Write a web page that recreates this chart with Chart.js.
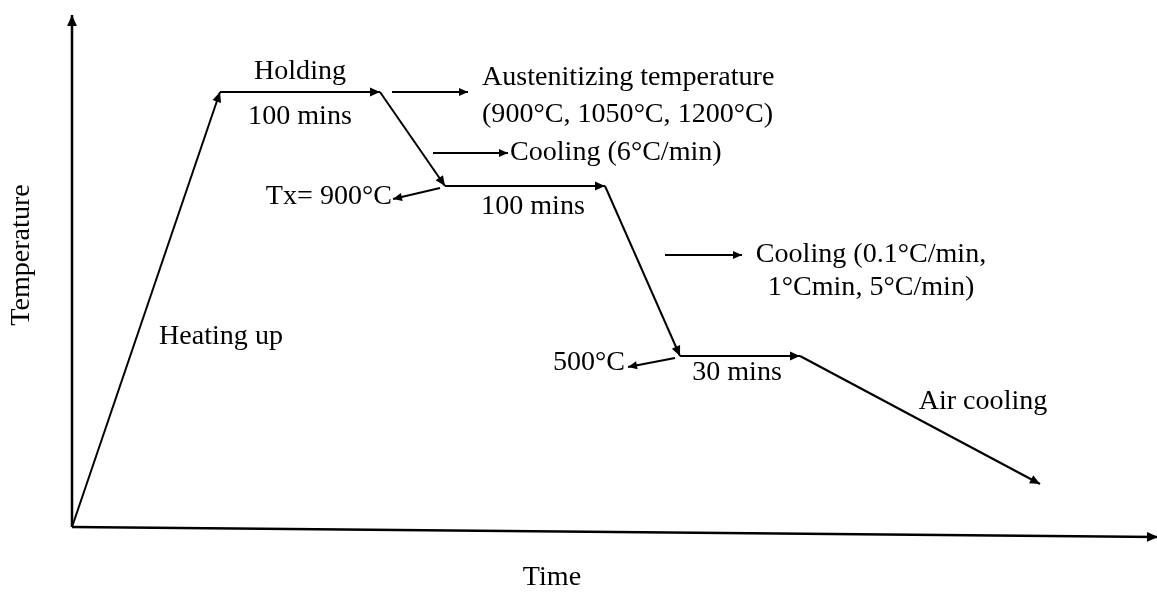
<!DOCTYPE html>
<html>
<head>
<meta charset="utf-8">
<script src="https://cdn.jsdelivr.net/npm/chart.js@4/dist/chart.umd.min.js"></script>
<style>
html,body{margin:0;padding:0;background:#fff;}
#wrap{width:1157px;height:592px;position:relative;}
</style>
</head>
<body>
<div id="wrap"><canvas id="c"></canvas></div>
<script>
// Heat-treatment profile (schematic units: time → right, temperature → up)
const profileTime = [0, 148, 308, 373, 533, 608, 728, 968];
const profileTemp = [0, 435, 435, 341, 341, 171, 171, 43];

// Axis lines
const yAxisTime = [0, 0];
const yAxisTemp = [0, 512];
const xAxisTime = [0, 1086];
const xAxisTemp = [0, -10];

// Pointer arrows (from -> to)
const pointerFromTime = [320, 361, 368, 593, 603];
const pointerFromTemp = [435, 374, 339, 272, 169];
const pointerToTime   = [396, 436, 321, 670, 556];
const pointerToTemp   = [435, 374, 328, 272, 160];

// Labels
const labelText = ["Holding", "100 mins", "Austenitizing temperature", "(900°C, 1050°C, 1200°C)",
  "Cooling (6°C/min)", "Tx= 900°C", "100 mins", "Cooling (0.1°C/min,", "1°Cmin, 5°C/min)",
  "500°C", "30 mins", "Heating up", "Air cooling"];
const labelTime = [228, 228, 410, 410, 438, 320, 461, 799, 799, 553, 665, 149, 911];
const labelTemp = [455, 410, 449, 412, 374, 330, 320, 272, 239, 164, 154, 190, 125];
const labelAlign = ["center","center","left","left","left","right","center","center","center","right","center","center","center"];

const yTitle = "Temperature";
const xTitle = "Time";
const yTitlePos = [-50, 272];
const xTitlePos = [480, -51];

function pts(xs, ys){ return xs.map((x,i)=>({x:x, y:ys[i]})); }

const datasets = [];
// profile: each segment gets its own arrowhead
for (let i = 0; i < profileTime.length - 1; i++) {
  datasets.push({data: pts(profileTime.slice(i, i+2), profileTemp.slice(i, i+2)), borderWidth: 2, arrow: 10});
}
datasets.push({data: pts(yAxisTime, yAxisTemp), borderWidth: 2.5, arrow: 11});
datasets.push({data: pts(xAxisTime, xAxisTemp), borderWidth: 2.5, arrow: 11});
for (let i = 0; i < pointerFromTime.length; i++) {
  datasets.push({data: pts([pointerFromTime[i], pointerToTime[i]], [pointerFromTemp[i], pointerToTemp[i]]), borderWidth: 2, arrow: 9});
}
datasets.forEach(d => { d.borderColor = '#000'; d.showLine = true; d.pointRadius = 0; d.fill = false; });

const FONT = 'Liberation Serif, "Times New Roman", serif';
const FS = 27, STRETCH = 1.04;

const decor = {
  id: 'decor',
  afterDatasetsDraw(chart) {
    const ctx = chart.ctx, xs = chart.scales.x, ys = chart.scales.y;
    ctx.save();
    ctx.fillStyle = '#000';
    chart.data.datasets.forEach((ds, i) => {
      const m = chart.getDatasetMeta(i).data;
      const a = m[m.length - 2], b = m[m.length - 1];
      const ang = Math.atan2(b.y - a.y, b.x - a.x);
      const L = ds.arrow, W = L * 0.45;
      ctx.save();
      ctx.translate(b.x, b.y);
      ctx.rotate(ang);
      ctx.beginPath();
      ctx.moveTo(0, 0);
      ctx.lineTo(-L, -W);
      ctx.lineTo(-L, W);
      ctx.closePath();
      ctx.fill();
      ctx.restore();
    });
    ctx.font = FS + 'px ' + FONT;
    ctx.textBaseline = 'middle';
    labelText.forEach((t, i) => {
      const px = xs.getPixelForValue(labelTime[i]), py = ys.getPixelForValue(labelTemp[i]);
      ctx.save();
      ctx.translate(px, py);
      ctx.scale(STRETCH, 1);
      ctx.textAlign = labelAlign[i];
      ctx.fillText(t, 0, 0);
      ctx.restore();
    });
    // axis titles
    ctx.save();
    ctx.translate(xs.getPixelForValue(yTitlePos[0]), ys.getPixelForValue(yTitlePos[1]));
    ctx.rotate(-Math.PI / 2);
    ctx.scale(STRETCH, 1);
    ctx.textAlign = 'center';
    ctx.fillText(yTitle, 0, 0);
    ctx.restore();
    ctx.save();
    ctx.translate(xs.getPixelForValue(xTitlePos[0]), ys.getPixelForValue(xTitlePos[1]));
    ctx.scale(STRETCH, 1);
    ctx.textAlign = 'center';
    ctx.fillText(xTitle, 0, 0);
    ctx.restore();
    ctx.restore();
  }
};

new Chart(document.getElementById('c'), {
  type: 'scatter',
  data: { datasets },
  options: {
    responsive: true,
    maintainAspectRatio: false,
    animation: false,
    layout: { padding: 0 },
    plugins: { legend: { display: false }, tooltip: { enabled: false } },
    scales: {
      x: { type: 'linear', min: -72, max: 1085, display: false },
      y: { type: 'linear', min: -65, max: 527, display: false }
    },
    elements: { line: { tension: 0 } },
    clip: false
  },
  plugins: [decor]
});
</script>
</body>
</html>
